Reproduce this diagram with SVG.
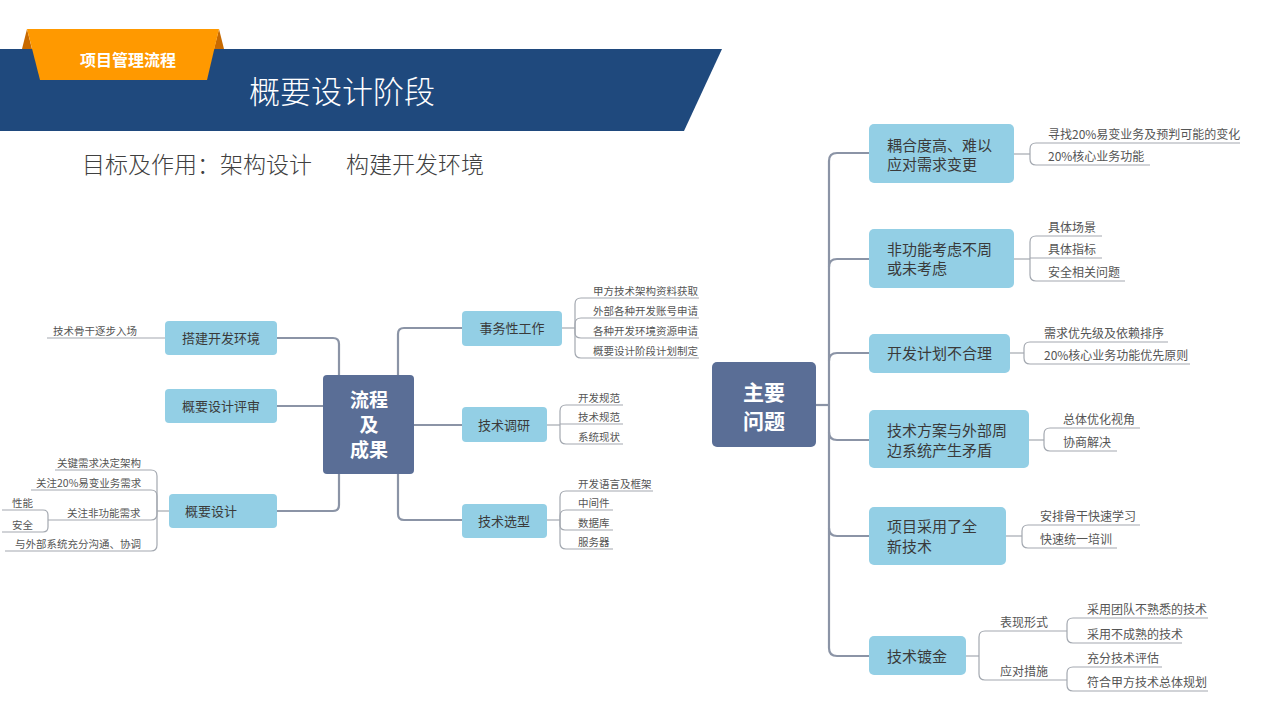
<svg xmlns="http://www.w3.org/2000/svg" width="1280" height="720" viewBox="0 0 1280 720">
<style>
text{font-family:"Noto Sans CJK SC","Noto Sans",sans-serif;}
.main{fill:#5a6e96;}
.box{fill:#93cfe5;}
.ctext{fill:#ffffff;font-weight:700;text-anchor:middle;}
.btxt{fill:#3a3a3a;font-size:13px;}
.rbt{fill:#3a3a3a;font-size:15px;}
.leaf{fill:#555;font-size:10.5px;}
.rleaf{fill:#555;font-size:12px;}
.conn{fill:none;stroke:#8b94a6;stroke-width:2.2;}
.lc{fill:none;stroke:#a3a8b0;stroke-width:1.2;}
</style>
<rect width="1280" height="720" fill="#ffffff"/>

<g id="header">
<polygon points="0,49 722,49 684,131 0,131" fill="#1f497d"/>
<polygon points="27,29 22,49 32,49" fill="#c86a00"/>
<polygon points="219,29 224,49 214,49" fill="#c86a00"/>
<polygon points="27,29 219,29 207,80 40,80" fill="#ff9900"/>
<text x="128" y="66" fill="#ffffff" font-size="16" font-weight="700" text-anchor="middle">项目管理流程</text>
<text x="249" y="103" fill="#ffffff" font-size="31" font-weight="300">概要设计阶段</text>
<text x="82" y="173" fill="#404040" font-size="23" font-weight="300">目标及作用：架构设计<tspan x="341"> 构建开发环境</tspan></text>
</g>

<g id="connectors">
<path class="conn" d="M277 338 H333 Q339 338 339 344 V375"/>
<path class="conn" d="M277 406 H323"/>
<path class="conn" d="M339 474 V505 Q339 511 333 511 H277"/>
<path class="conn" d="M398 375 V334 Q398 328 404 328 H462"/>
<path class="conn" d="M414 425 H462"/>
<path class="conn" d="M398 474 V514 Q398 520 404 520 H462"/>
<path class="lc" d="M165 338 H47"/>
<path class="lc" d="M169 511 H157"/>
<path class="lc" d="M157 511 V476 Q157 470 151 470 H55"/>
<path class="lc" d="M157 511 V496 Q157 490 151 490 H31"/>
<path class="lc" d="M157 511 V514 Q157 520 151 520 H48"/>
<path class="lc" d="M157 511 V545 Q157 551 151 551 H5"/>
<path class="lc" d="M48 520 V515 Q48 510 43 510 H2"/>
<path class="lc" d="M48 520 V527 Q48 532 43 532 H2"/>
<path class="lc" d="M562 328 H575"/>
<path class="lc" d="M575 328 V304 Q575 298 581 298 H699"/>
<path class="lc" d="M575 328 V324 Q575 318 581 318 H699"/>
<path class="lc" d="M575 328 V333 Q575 338 581 338 H699"/>
<path class="lc" d="M575 328 V352 Q575 358 581 358 H699"/>
<path class="lc" d="M547 425 H560"/>
<path class="lc" d="M560 425 V411 Q560 405 566 405 H623"/>
<path class="lc" d="M560 424 H623"/>
<path class="lc" d="M560 425 V438 Q560 444 566 444 H623"/>
<path class="lc" d="M547 520 H560"/>
<path class="lc" d="M560 520 V497 Q560 491 566 491 H653"/>
<path class="lc" d="M560 520 V516 Q560 510 566 510 H613"/>
<path class="lc" d="M560 520 V525 Q560 530 565 530 H613"/>
<path class="lc" d="M560 520 V543 Q560 549 566 549 H613"/>
<path class="conn" d="M816 405 H829"/>
<path class="conn" d="M869 153 H837 Q829 153 829 161 V648 Q829 656 837 656 H869"/>
<path class="conn" d="M829 267 Q829 259 837 259 H869"/>
<path class="conn" d="M829 361 Q829 353 837 353 H869"/>
<path class="conn" d="M829 432 Q829 440 837 440 H869"/>
<path class="conn" d="M829 528 Q829 536 837 536 H869"/>
<path class="lc" d="M1014 154 H1030"/>
<path class="lc" d="M1030 154 V149 Q1030 143 1036 143 H1240"/>
<path class="lc" d="M1030 154 V159 Q1030 165 1036 165 H1150"/>
<path class="lc" d="M1014 259 H1030"/>
<path class="lc" d="M1030 259 V242 Q1030 236 1036 236 H1102"/>
<path class="lc" d="M1030 258 H1102"/>
<path class="lc" d="M1030 259 V275 Q1030 281 1036 281 H1125"/>
<path class="lc" d="M1010 353 H1024"/>
<path class="lc" d="M1024 353 V348 Q1024 342 1030 342 H1168"/>
<path class="lc" d="M1024 353 V358 Q1024 364 1030 364 H1190"/>
<path class="lc" d="M1029 440 H1044"/>
<path class="lc" d="M1044 440 V434 Q1044 428 1050 428 H1140"/>
<path class="lc" d="M1044 440 V445 Q1044 451 1050 451 H1117"/>
<path class="lc" d="M1006 536 H1022"/>
<path class="lc" d="M1022 536 V531 Q1022 525 1028 525 H1140"/>
<path class="lc" d="M1022 536 V542 Q1022 548 1028 548 H1117"/>
<path class="lc" d="M966 656 H979"/>
<path class="lc" d="M979 656 V637 Q979 631 985 631 H1067"/>
<path class="lc" d="M979 656 V674 Q979 680 985 680 H1067"/>
<path class="lc" d="M1067 631 V624 Q1067 618 1073 618 H1208"/>
<path class="lc" d="M1067 631 V637 Q1067 643 1073 643 H1182"/>
<path class="lc" d="M1067 680 V673 Q1067 667 1073 667 H1162"/>
<path class="lc" d="M1067 680 V685 Q1067 691 1073 691 H1208"/>
</g>

<g id="node-center-left">
<rect class="main" x="323" y="375" width="91" height="99" rx="4"/>
<text class="ctext" x="369" y="407" font-size="19">流程</text>
<text class="ctext" x="369" y="432" font-size="19">及</text>
<text class="ctext" x="369" y="457" font-size="19">成果</text>
</g>
<g id="node-dajian">
<rect class="box" x="165" y="321" width="112" height="34" rx="4"/>
<text class="btxt" x="221" y="343" text-anchor="middle">搭建开发环境</text>
<text class="leaf" x="53" y="334.5">技术骨干逐步入场</text>
</g>
<g id="node-pingshen">
<rect class="box" x="165" y="389" width="112" height="34" rx="4"/>
<text class="btxt" x="221" y="411" text-anchor="middle">概要设计评审</text>
</g>
<g id="node-gaiyao">
<rect class="box" x="169" y="494" width="108" height="34" rx="4"/>
<text class="btxt" x="185" y="516">概要设计</text>
<text class="leaf" x="57" y="466.5">关键需求决定架构</text>
<text class="leaf" x="36" y="486.5">关注20%易变业务需求</text>
<text class="leaf" x="67" y="516.5">关注非功能需求</text>
<text class="leaf" x="12" y="506.5">性能</text>
<text class="leaf" x="12" y="528.5">安全</text>
<text class="leaf" x="15" y="547.5">与外部系统充分沟通、协调</text>
</g>
<g id="node-shiwu">
<rect class="box" x="462" y="311" width="100" height="35" rx="4"/>
<text class="btxt" x="512" y="333" text-anchor="middle">事务性工作</text>
<text class="leaf" x="593" y="294.5">甲方技术架构资料获取</text>
<text class="leaf" x="593" y="314.5">外部各种开发账号申请</text>
<text class="leaf" x="593" y="334.5">各种开发环境资源申请</text>
<text class="leaf" x="593" y="354.5">概要设计阶段计划制定</text>
</g>
<g id="node-diaoyan">
<rect class="box" x="462" y="407" width="85" height="35" rx="4"/>
<text class="btxt" x="504" y="429.5" text-anchor="middle">技术调研</text>
<text class="leaf" x="578" y="401.5">开发规范</text>
<text class="leaf" x="578" y="420.5">技术规范</text>
<text class="leaf" x="578" y="440.5">系统现状</text>
</g>
<g id="node-xuanxing">
<rect class="box" x="462" y="504" width="85" height="34" rx="4"/>
<text class="btxt" x="504" y="526" text-anchor="middle">技术选型</text>
<text class="leaf" x="578" y="487.5">开发语言及框架</text>
<text class="leaf" x="578" y="506.5">中间件</text>
<text class="leaf" x="578" y="526.5">数据库</text>
<text class="leaf" x="578" y="545.5">服务器</text>
</g>

<g id="node-center-right">
<rect class="main" x="712" y="362" width="104" height="85" rx="5"/>
<text class="ctext" x="764" y="400" font-size="21">主要</text>
<text class="ctext" x="764" y="429" font-size="21">问题</text>
</g>
<g id="node-ouhe">
<rect class="box" x="869" y="124" width="145" height="59" rx="5"/>
<text class="rbt" x="887" y="150.5">耦合度高、难以</text>
<text class="rbt" x="887" y="169.5">应对需求变更</text>
<text class="rleaf" x="1048" y="138.5">寻找20%易变业务及预判可能的变化</text>
<text class="rleaf" x="1048" y="160.5">20%核心业务功能</text>
</g>
<g id="node-feigongneng">
<rect class="box" x="869" y="229" width="145" height="59" rx="5"/>
<text class="rbt" x="887" y="254.5">非功能考虑不周</text>
<text class="rbt" x="887" y="273.5">或未考虑</text>
<text class="rleaf" x="1048" y="231.5">具体场景</text>
<text class="rleaf" x="1048" y="253.5">具体指标</text>
<text class="rleaf" x="1048" y="276.5">安全相关问题</text>
</g>
<g id="node-jihua">
<rect class="box" x="869" y="334" width="141" height="39" rx="5"/>
<text class="rbt" x="887" y="358.5">开发计划不合理</text>
<text class="rleaf" x="1044" y="337.5">需求优先级及依赖排序</text>
<text class="rleaf" x="1044" y="359.5">20%核心业务功能优先原则</text>
</g>
<g id="node-maodun">
<rect class="box" x="869" y="410" width="160" height="58" rx="5"/>
<text class="rbt" x="887" y="435.5">技术方案与外部周</text>
<text class="rbt" x="887" y="455.5">边系统产生矛盾</text>
<text class="rleaf" x="1063" y="423.5">总体优化视角</text>
<text class="rleaf" x="1063" y="446.5">协商解决</text>
</g>
<g id="node-xinjishu">
<rect class="box" x="869" y="507" width="137" height="58" rx="5"/>
<text class="rbt" x="887" y="531.5">项目采用了全</text>
<text class="rbt" x="887" y="551.5">新技术</text>
<text class="rleaf" x="1040" y="520.5">安排骨干快速学习</text>
<text class="rleaf" x="1040" y="543.5">快速统一培训</text>
</g>
<g id="node-dujin">
<rect class="box" x="869" y="636" width="97" height="39" rx="5"/>
<text class="rbt" x="887" y="661.5">技术镀金</text>
<text class="rleaf" x="1000" y="627">表现形式</text>
<text class="rleaf" x="1000" y="676">应对措施</text>
<text class="rleaf" x="1087" y="614">采用团队不熟悉的技术</text>
<text class="rleaf" x="1087" y="639">采用不成熟的技术</text>
<text class="rleaf" x="1087" y="663">充分技术评估</text>
<text class="rleaf" x="1087" y="687">符合甲方技术总体规划</text>
</g>
</svg>
